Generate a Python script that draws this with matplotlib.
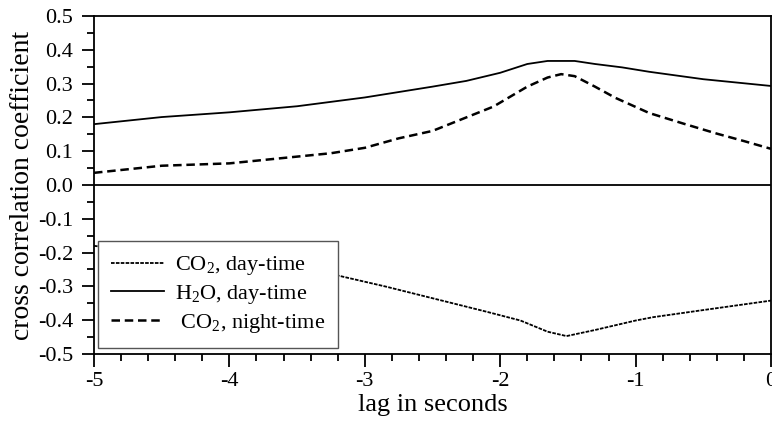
import matplotlib
matplotlib.use('Agg')
import matplotlib.pyplot as plt
from matplotlib.ticker import MultipleLocator

plt.rcParams['font.family'] = ['Liberation Serif', 'DejaVu Serif']
plt.rcParams['mathtext.fontset'] = 'custom'
plt.rcParams['mathtext.rm'] = 'Liberation Serif'

# CO2 day-time (dotted)
lag_co2_day = [-5.0, -4.5, -4.0, -3.5, -3.24, -2.84, -2.35, -2.1, -1.85, -1.65, -1.51, -1.3, -1.0, -0.87, -0.5, 0.0]
co2_day = [-0.18, -0.205, -0.228, -0.25, -0.264, -0.301, -0.350, -0.375, -0.401, -0.434, -0.447, -0.429, -0.401, -0.391, -0.370, -0.342]

# H2O day-time (solid)
lag_h2o_day = [-5.0, -4.5, -4.0, -3.5, -3.0, -2.5, -2.25, -2.0, -1.8, -1.65, -1.45, -1.3, -1.1, -0.9, -0.5, 0.0]
h2o_day = [0.180, 0.201, 0.215, 0.233, 0.259, 0.291, 0.308, 0.332, 0.358, 0.367, 0.367, 0.358, 0.348, 0.335, 0.313, 0.293]

# CO2 night-time (dashed)
lag_co2_night = [-5.0, -4.5, -4.0, -3.5, -3.25, -3.0, -2.75, -2.5, -2.3, -2.05, -1.8, -1.65, -1.55, -1.45,
                 -1.3, -1.15, -0.9, -0.65, -0.4, -0.2, 0.0]
co2_night = [0.036, 0.057, 0.064, 0.084, 0.094, 0.110, 0.138, 0.160, 0.192, 0.232, 0.291, 0.318, 0.328, 0.322,
             0.291, 0.258, 0.213, 0.182, 0.152, 0.130, 0.107]

labels = [r'CO$_\mathregular{2}$, day-time', r'H$_\mathregular{2}$O, day-time', r' CO$_\mathregular{2}$, night-time']

fig = plt.figure(figsize=(7.72, 4.23), dpi=100)
ax = fig.add_axes([94 / 772, 1 - 354 / 423, 677 / 772, 338 / 423])

ax.axhline(0, color='black', lw=1.3)
ax.plot(lag_co2_day, co2_day, color='black', lw=1.3, linestyle=(0, (2.0, 0.7)), label=labels[0])
ax.plot(lag_h2o_day, h2o_day, color='black', lw=1.3, label=labels[1])
ax.plot(lag_co2_night, co2_night, color='black', lw=1.8, linestyle=(0, (3.4, 1.9)), label=labels[2])

ax.set_xlim(-5, 0)
ax.set_ylim(-0.5, 0.5)
ax.xaxis.set_minor_locator(MultipleLocator(0.2))
ax.yaxis.set_minor_locator(MultipleLocator(0.05))
ax.set_xticks([-5, -4, -3, -2, -1, 0])
ax.set_xticklabels(['-5', '-4', '-3', '-2', '-1', '0'])
ax.set_yticks([-0.5, -0.4, -0.3, -0.2, -0.1, 0.0, 0.1, 0.2, 0.3, 0.4, 0.5])
ax.set_yticklabels(['-0.5', '-0.4', '-0.3', '-0.2', '-0.1', '0.0', '0.1', '0.2', '0.3', '0.4', '0.5'])

ax.tick_params(which='major', direction='out', length=9, width=1.3, labelsize=16, pad=4)
ax.tick_params(axis='y', which='major', pad=6)
ax.tick_params(which='minor', direction='out', length=5, width=1.3)
for s in ax.spines.values():
    s.set_linewidth(1.3)

ax.set_xlabel('lag in seconds', fontsize=19, labelpad=2)
ax.set_ylabel('cross correlation coefficient', fontsize=20, labelpad=2)

leg = ax.legend(loc='lower left', bbox_to_anchor=(0.006, 0.018), borderaxespad=0, fontsize=16,
                frameon=True, fancybox=False, framealpha=1, edgecolor='#555555',
                handlelength=2.35, handletextpad=0.5, labelspacing=0.25, borderpad=0.6)
leg.get_frame().set_linewidth(1.0)

plt.savefig('out.png', dpi=100)
